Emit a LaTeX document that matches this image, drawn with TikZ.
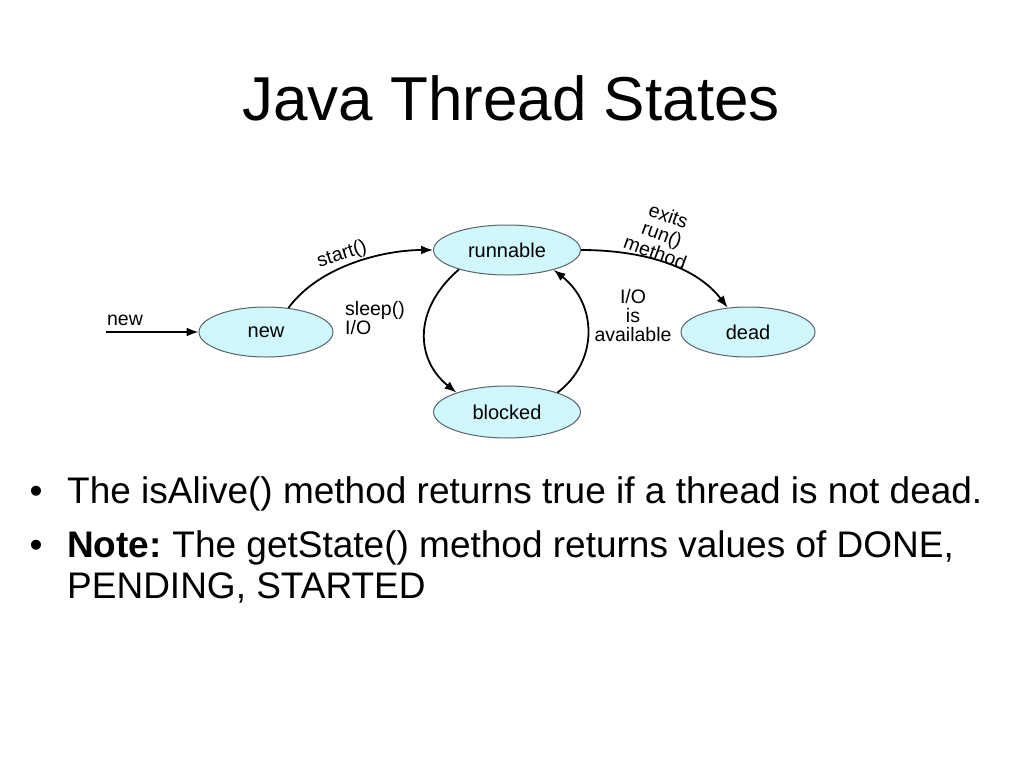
\documentclass[tikz,border=0pt]{standalone}
\usepackage{fontspec}
\setmainfont{Liberation Sans}
\usetikzlibrary{arrows.meta,shapes.geometric}
\definecolor{statefill}{RGB}{208,248,252}
\definecolor{stateline}{RGB}{90,100,105}
\tikzset{
  state/.style={ellipse,draw=stateline,line width=1pt,fill=statefill,minimum width=134pt,minimum height=50pt,inner sep=0pt,font=\fontsize{20}{22}\selectfont},
  conn/.style={line width=1.8pt,-{Latex[length=12pt,width=9pt]}},
  lbl/.style={font=\fontsize{19.5}{19}\selectfont,inner sep=0pt},
  bullettext/.style={font=\fontsize{37}{40}\selectfont,inner sep=0pt,anchor=base west},
  bulletdot/.style={font=\fontsize{37}{40}\selectfont,inner sep=0pt,anchor=base}
}
\begin{document}
\begin{tikzpicture}[x=1pt,y=-1pt]
\useasboundingbox[fill=white] (0,0) rectangle (1024,768);
\node[font=\fontsize{62}{64}\selectfont,inner sep=0pt,anchor=base] (title) at (511,120) {Java Thread States};

\node[state] (new) at (266,332) {new};
\node[state,minimum width=147pt] (run) at (507,250) {runnable};
\node[state] (dead) at (748,332) {dead};
\node[state,minimum width=147pt,minimum height=52pt] (blk) at (507,412) {blocked};

\coordinate (in) at (106,332);
\draw[conn] (in) -- (new.west);
\node[lbl] (inl) at (125,320) {new};

\draw[conn] (new.47) .. controls (320,265) and (385,250) .. (run.west);
\node[lbl,rotate=18] (startl) at (342,255) {start()};

\draw[conn] (run.east) .. controls (640,250) and (695,265) .. (dead.130);
\node[lbl,rotate=-20,align=center,font=\fontsize{19.5}{19.5}\selectfont] (exitl) at (662,234) {exits\\run()\\method};

\draw[conn] (run.202) .. controls (412,310) and (416,360) .. (blk.159);
\draw[conn] (blk.21) .. controls (598,362) and (598,305) .. (run.-23);

\node[lbl,align=left,anchor=north west] (sleepl) at (345,301) {sleep()\\I/O};
\node[lbl,align=center] (iol) at (633,316) {I/O\\is\\available};

\node[bullettext] (b1) at (67,503) {The isAlive() method returns true if a thread is not dead.};
\node[bulletdot] (d1) at (36,503) {•};
\node[bullettext] (b2) at (67,557) {\textbf{Note:}\hspace{-0.08em} The getState() method returns values of DONE,};
\node[bulletdot] (d2) at (36,557) {•};
\node[bullettext] (b3) at (67,598) {PENDING, STARTED};
\end{tikzpicture}
\end{document}
